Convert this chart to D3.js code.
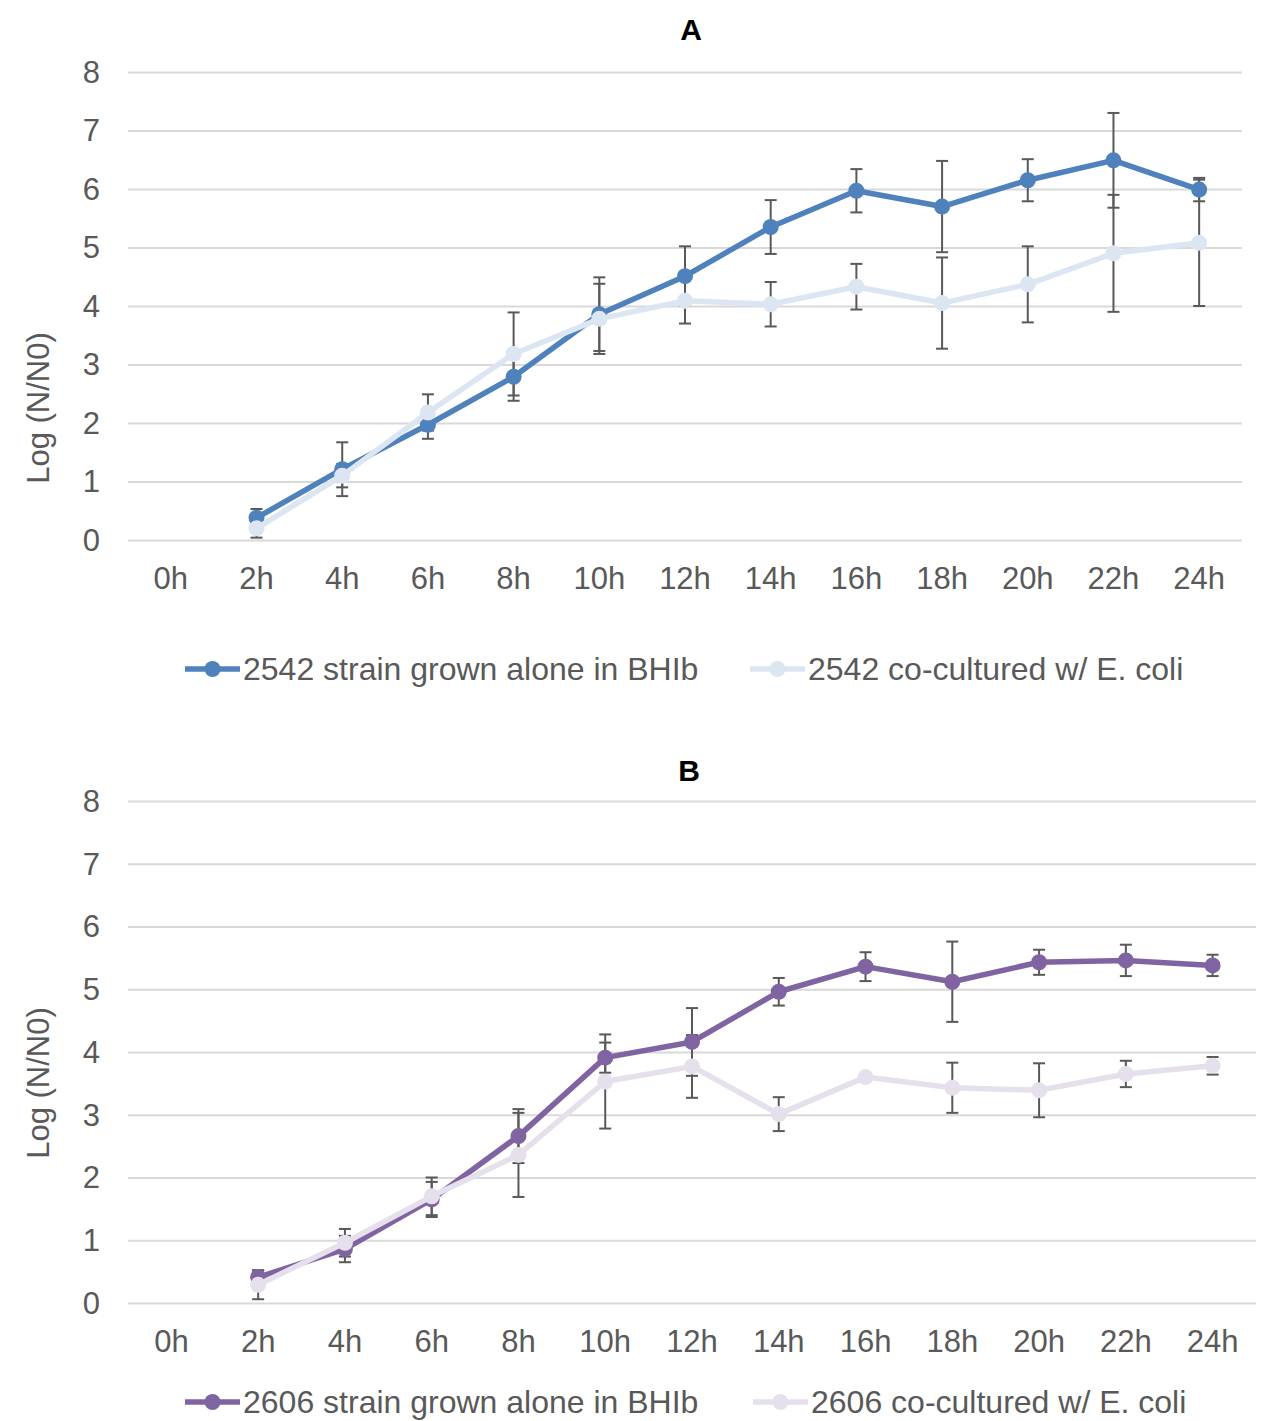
<!DOCTYPE html>
<html>
<head>
<meta charset="utf-8">
<script src="https://cdnjs.cloudflare.com/ajax/libs/d3/7.8.5/d3.min.js"></script>
<style>
	body { margin: 0; background: #fff; }
	text { font-family: "Liberation Sans", Arial, sans-serif; }
</style>
</head>
<body>
<div id="chart"></div>
<script>
// time points on the x axis
var hours = ['0h','2h','4h','6h','8h','10h','12h','14h','16h','18h','20h','22h','24h']
var yTicks = [0,1,2,3,4,5,6,7,8]

// panel A - strain 2542
var aloneA    = [null, 0.38, 1.21, 1.97, 2.79, 3.86, 4.51, 5.35, 5.97, 5.70, 6.15, 6.49, 5.99]
var aloneAErr = [null, 0.15, 0.46, 0.24, 0.41, 0.63, 0.51, 0.46, 0.37, 0.78, 0.36, 0.81, 0.20]
var coA       = [null, 0.20, 1.10, 2.18, 3.18, 3.78, 4.09, 4.03, 4.33, 4.05, 4.37, 4.90, 5.08]
var coAErr    = [null, 0.16, 0.20, 0.31, 0.71, 0.60, 0.39, 0.38, 0.39, 0.78, 0.65, 1.00, 1.08]

// panel B - strain 2606
var aloneB    = [null, 0.41, 0.86, 1.65, 2.66, 3.91, 4.16, 4.96, 5.36, 5.12, 5.43, 5.46, 5.38]
var aloneBErr = [null, 0.11, 0.21, 0.28, 0.43, 0.24, 0.54, 0.22, 0.23, 0.64, 0.20, 0.25, 0.17]
var coB       = [null, 0.29, 0.96, 1.70, 2.36, 3.53, 3.77, 3.01, 3.60, 3.43, 3.39, 3.65, 3.78]
var coBErr    = [null, 0.23, 0.22, 0.30, 0.67, 0.75, 0.50, 0.27, 0.05, 0.40, 0.43, 0.21, 0.14]

var TEXT_COLOR = '#595959'
var FONT_SIZE = 31

var svg = d3.select('#chart').append('svg')
	.attr('width', 1263).attr('height', 1421)

function drawPanel(p)
{
	var g = svg.append('g')

	var x = d3.scaleBand().domain(hours).range([p.left, p.right])
	var y = d3.scaleLinear().domain([0, 8]).range([p.bottom, p.top])
	var cx = function(i){ return x(hours[i]) + x.bandwidth()/2 }

	// gridlines
	g.append('g')
		.attr('transform', 'translate('+p.left+',0)')
		.call(d3.axisLeft(y).tickValues(yTicks).tickSize(-(p.right-p.left)).tickFormat(''))
		.call(function(a){ a.select('.domain').remove() })
		.selectAll('line')
		.attr('stroke', '#d9d9d9')
		.attr('stroke-width', 2)

	// y tick labels
	g.selectAll('.ylab')
		.data(yTicks)
		.enter()
		.append('text')
		.attr('class', 'ylab')
		.attr('x', 100)
		.attr('y', function(d){ return y(d) })
		.attr('dy', '0.35em')
		.attr('text-anchor', 'end')
		.attr('font-size', FONT_SIZE)
		.attr('fill', TEXT_COLOR)
		.text(function(d){ return d })

	// x tick labels
	g.selectAll('.xlab')
		.data(hours)
		.enter()
		.append('text')
		.attr('class', 'xlab')
		.attr('x', function(d){ return x(d) + x.bandwidth()/2 })
		.attr('y', p.bottom + 38)
		.attr('dy', '0.35em')
		.attr('text-anchor', 'middle')
		.attr('font-size', FONT_SIZE)
		.attr('fill', TEXT_COLOR)
		.text(function(d){ return d })

	// title
	g.append('text')
		.attr('x', p.titleX)
		.attr('y', p.titleY)
		.attr('text-anchor', 'middle')
		.attr('font-size', 30)
		.attr('font-weight', 'bold')
		.attr('fill', '#000')
		.text(p.title)

	// y axis title, sits lower than the plot middle in the original
	g.append('text')
		.attr('transform', 'translate(38,'+p.axisTitleY+') rotate(-90)')
		.attr('dy', '0.35em')
		.attr('text-anchor', 'middle')
		.attr('font-size', FONT_SIZE)
		.attr('fill', TEXT_COLOR)
		.text('Log (N/N0)')

	// error bars first, markers go on top of them
	p.series.forEach(function(s){
		var pts = []
		s.values.forEach(function(v, i){ if(v != null) pts.push({i: i, v: v, e: s.err[i]}) })

		var eb = g.append('g').attr('stroke', '#595959').attr('stroke-width', 2)
		eb.selectAll('.ebar').data(pts).enter().append('line')
			.attr('x1', function(d){ return cx(d.i) })
			.attr('x2', function(d){ return cx(d.i) })
			.attr('y1', function(d){ return y(d.v + d.e) })
			.attr('y2', function(d){ return y(d.v - d.e) })
		eb.selectAll('.ecapt').data(pts).enter().append('line')
			.attr('x1', function(d){ return cx(d.i) - 6 })
			.attr('x2', function(d){ return cx(d.i) + 6 })
			.attr('y1', function(d){ return y(d.v + d.e) })
			.attr('y2', function(d){ return y(d.v + d.e) })
		eb.selectAll('.ecapb').data(pts).enter().append('line')
			.attr('x1', function(d){ return cx(d.i) - 6 })
			.attr('x2', function(d){ return cx(d.i) + 6 })
			.attr('y1', function(d){ return y(d.v - d.e) })
			.attr('y2', function(d){ return y(d.v - d.e) })
	})

	var line = d3.line()
		.defined(function(d){ return d != null })
		.x(function(d, i){ return cx(i) })
		.y(function(d){ return y(d) })

	p.series.forEach(function(s){
		g.append('path')
			.datum(s.values)
			.attr('d', line)
			.attr('fill', 'none')
			.attr('stroke', s.color)
			.attr('stroke-width', 5.5)
			.attr('stroke-linejoin', 'round')

		g.selectAll(null)
			.data(s.values.map(function(v, i){ return {v: v, i: i} }).filter(function(d){ return d.v != null }))
			.enter()
			.append('circle')
			.attr('cx', function(d){ return cx(d.i) })
			.attr('cy', function(d){ return y(d.v) })
			.attr('r', 8)
			.attr('fill', s.color)
	})

	// legend
	p.series.forEach(function(s, k){
		var lx = p.legendX[k]
		var lg = g.append('g').attr('transform', 'translate('+lx+','+p.legendY+')')
		lg.append('line')
			.attr('x1', 0).attr('x2', 55)
			.attr('stroke', s.color).attr('stroke-width', 5.5)
		lg.append('circle')
			.attr('cx', 27.5).attr('r', 8).attr('fill', s.color)
		lg.append('text')
			.attr('x', 58)
			.attr('dy', '0.35em')
			.attr('font-size', 32)
			.attr('fill', TEXT_COLOR)
			.text(s.name)
	})
}

drawPanel({
	title: 'A', titleX: 691, titleY: 40,
	left: 128, right: 1242, top: 72, bottom: 540,
	axisTitleY: 408,
	legendX: [185, 750], legendY: 669,
	series: [
		{name: '2542 strain grown alone in BHIb', values: aloneA, err: aloneAErr, color: '#4f81bd'},
		{name: '2542 co-cultured w/ E. coli', values: coA, err: coAErr, color: '#dce6f2'}
	]
})

drawPanel({
	title: 'B', titleX: 689, titleY: 781,
	left: 128, right: 1256, top: 801, bottom: 1303,
	axisTitleY: 1083,
	legendX: [185, 753], legendY: 1402,
	series: [
		{name: '2606 strain grown alone in BHIb', values: aloneB, err: aloneBErr, color: '#8064a2'},
		{name: '2606 co-cultured w/ E. coli', values: coB, err: coBErr, color: '#e6e0ec'}
	]
})
</script>
</body>
</html>
